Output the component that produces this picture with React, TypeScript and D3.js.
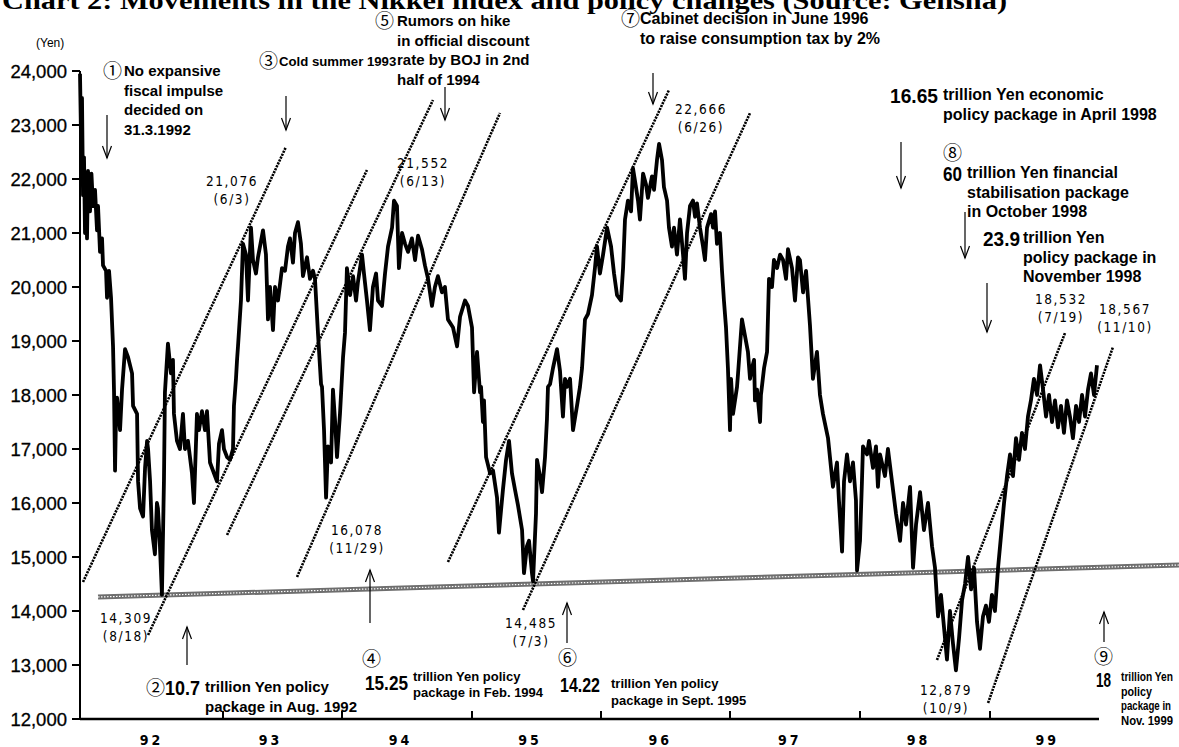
import * as d3 from "d3";

// Nikkei 225: [decimal year, yen]
const nikkei: [number, number][] = [
  [1992.0, 23950], [1992.007, 22800], [1992.014, 23500], [1992.021, 21700], [1992.028, 22400], [1992.035, 21000],
  [1992.042, 21900], [1992.049, 20900], [1992.056, 22150], [1992.07, 21400], [1992.08, 22100], [1992.091, 21500],
  [1992.105, 21800], [1992.119, 21050], [1992.126, 21500], [1992.14, 20650], [1992.154, 20900], [1992.161, 20400],
  [1992.182, 20300], [1992.189, 19800], [1992.203, 20300], [1992.217, 19800], [1992.231, 18900], [1992.238, 18050],
  [1992.245, 16600], [1992.252, 17650], [1992.259, 17950], [1992.28, 17350], [1992.294, 18100], [1992.315, 18850],
  [1992.336, 18700], [1992.364, 18400], [1992.371, 17800], [1992.399, 17650], [1992.406, 16400], [1992.42, 15900],
  [1992.441, 15750], [1992.455, 16650], [1992.469, 17150], [1992.476, 17000], [1992.49, 16400], [1992.503, 15500],
  [1992.524, 15050], [1992.538, 16000], [1992.545, 15900], [1992.559, 15200], [1992.573, 14300], [1992.587, 16400],
  [1992.594, 18050], [1992.615, 18950], [1992.636, 18400], [1992.65, 18650], [1992.657, 17650], [1992.678, 17150],
  [1992.699, 17000], [1992.72, 17650], [1992.734, 17000], [1992.755, 17150], [1992.783, 16550], [1992.797, 16000],
  [1992.818, 17650], [1992.832, 17350], [1992.853, 17700], [1992.874, 17350], [1992.888, 17700], [1992.909, 16750],
  [1992.944, 16500], [1992.958, 16400], [1992.972, 17100], [1992.993, 17350],
  [1993.008, 17000], [1993.034, 16850], [1993.059, 16800], [1993.084, 17000], [1993.092, 17800], [1993.109, 18300],
  [1993.118, 18650], [1993.126, 18900], [1993.151, 19750], [1993.168, 20800], [1993.193, 20600], [1993.21, 19750],
  [1993.235, 21100], [1993.252, 20500], [1993.277, 20250], [1993.294, 20550], [1993.336, 21050], [1993.361, 20600],
  [1993.378, 19400], [1993.395, 20000], [1993.42, 19200], [1993.437, 20000], [1993.462, 19750], [1993.496, 20350],
  [1993.521, 20300], [1993.546, 20750], [1993.563, 20900], [1993.588, 20450], [1993.605, 21000], [1993.63, 21200],
  [1993.655, 20800], [1993.672, 20200], [1993.706, 20550], [1993.731, 20150], [1993.756, 20300], [1993.773, 20150],
  [1993.798, 19150], [1993.824, 18200], [1993.832, 18150], [1993.849, 17350], [1993.866, 16100], [1993.882, 17050],
  [1993.908, 16750], [1993.924, 18100], [1993.941, 17550], [1993.958, 16850], [1993.983, 17650],
  [1994.008, 18700], [1994.023, 19150], [1994.038, 20350], [1994.062, 19850], [1994.085, 20200], [1994.108, 19750],
  [1994.123, 20100], [1994.154, 20600], [1994.169, 20250], [1994.192, 19750], [1994.215, 19200], [1994.238, 20000],
  [1994.262, 20250], [1994.277, 19750], [1994.308, 19650], [1994.331, 20250], [1994.354, 20750], [1994.385, 21100],
  [1994.4, 21600], [1994.423, 21500], [1994.438, 20350], [1994.462, 21000], [1994.485, 20800], [1994.508, 20650],
  [1994.538, 20900], [1994.562, 20500], [1994.585, 20950], [1994.615, 20700], [1994.638, 20400], [1994.662, 20150],
  [1994.692, 19650], [1994.715, 20000], [1994.738, 20200], [1994.769, 19900], [1994.792, 20000], [1994.815, 19400],
  [1994.854, 19250], [1994.885, 18900], [1994.908, 19450], [1994.946, 19750], [1994.969, 19650],
  [1995.0, 19250], [1995.016, 18050], [1995.039, 18800], [1995.062, 18050], [1995.07, 18150], [1995.085, 17500],
  [1995.093, 17900], [1995.109, 16850], [1995.14, 16550], [1995.163, 16600], [1995.194, 16100], [1995.209, 15450],
  [1995.24, 16250], [1995.264, 16800], [1995.287, 17150], [1995.31, 16550], [1995.333, 16250], [1995.357, 15950],
  [1995.388, 15500], [1995.403, 14700], [1995.426, 15200], [1995.442, 15300], [1995.465, 14700], [1995.473, 14550],
  [1995.496, 15800], [1995.504, 16800], [1995.527, 16500], [1995.543, 16200], [1995.566, 16850], [1995.581, 17550],
  [1995.589, 18150], [1995.605, 18200], [1995.628, 18500], [1995.659, 18850], [1995.682, 18450], [1995.705, 17600],
  [1995.721, 18300], [1995.736, 18150], [1995.76, 18300], [1995.783, 17350], [1995.814, 17800], [1995.837, 18150],
  [1995.853, 18500], [1995.876, 19400], [1995.899, 19500], [1995.93, 19850], [1995.953, 20350], [1995.969, 20750],
  [1995.992, 20250], [1996.016, 20600], [1996.047, 21100], [1996.078, 20750], [1996.101, 20250], [1996.124, 19850],
  [1996.155, 19750], [1996.171, 20350], [1996.186, 21250], [1996.209, 21600], [1996.233, 21400], [1996.248, 22200],
  [1996.271, 21850], [1996.287, 21600], [1996.302, 21250], [1996.326, 22100], [1996.349, 21900], [1996.364, 21650],
  [1996.395, 22050], [1996.411, 21800], [1996.434, 22350], [1996.45, 22650], [1996.473, 22350], [1996.488, 21850],
  [1996.512, 21600], [1996.527, 21100], [1996.55, 20750], [1996.566, 21100], [1996.589, 20600], [1996.612, 21250],
  [1996.636, 20600], [1996.651, 20150], [1996.667, 21000], [1996.69, 21500], [1996.713, 21600], [1996.729, 21300],
  [1996.744, 21550], [1996.767, 21100], [1996.791, 20750], [1996.806, 20500], [1996.822, 21100], [1996.853, 21350],
  [1996.868, 21100], [1996.884, 21400], [1996.899, 20800], [1996.922, 21000], [1996.938, 20300], [1996.953, 19750],
  [1996.969, 19250], [1996.984, 18500],
  [1997.0, 17350], [1997.008, 18300], [1997.023, 17650], [1997.054, 18150], [1997.062, 18400], [1997.092, 19400],
  [1997.115, 19100], [1997.138, 18800], [1997.154, 18300], [1997.169, 18500], [1997.185, 18650], [1997.192, 17900],
  [1997.208, 18100], [1997.231, 17500], [1997.238, 18000], [1997.262, 18500], [1997.285, 18800], [1997.3, 20150],
  [1997.323, 20000], [1997.338, 20500], [1997.362, 20350], [1997.385, 20600], [1997.408, 20500], [1997.431, 20150],
  [1997.446, 20700], [1997.477, 20350], [1997.5, 19750], [1997.523, 20550], [1997.538, 20500], [1997.562, 19900],
  [1997.585, 20300], [1997.615, 19300], [1997.638, 18300], [1997.669, 18800], [1997.692, 18000], [1997.715, 17650],
  [1997.754, 17200], [1997.792, 16300], [1997.823, 16750], [1997.838, 16050], [1997.862, 15100], [1997.877, 16400],
  [1997.9, 16900], [1997.923, 16400], [1997.946, 16750], [1997.969, 16050], [1997.977, 14750],
  [1998.0, 15300], [1998.015, 16400], [1998.023, 17050], [1998.054, 16900], [1998.069, 17150], [1998.1, 16650],
  [1998.123, 17050], [1998.138, 16300], [1998.154, 16900], [1998.192, 16500], [1998.215, 17000], [1998.246, 16400],
  [1998.277, 15800], [1998.308, 15300], [1998.331, 16000], [1998.354, 15600], [1998.385, 16300], [1998.408, 14800],
  [1998.431, 15600], [1998.462, 16200], [1998.492, 15500], [1998.523, 16000], [1998.554, 15200], [1998.577, 14800],
  [1998.6, 13900], [1998.623, 14300], [1998.646, 13700], [1998.669, 13100], [1998.692, 14000], [1998.715, 13400],
  [1998.738, 12900], [1998.762, 13500], [1998.785, 14200], [1998.808, 14500], [1998.831, 15000], [1998.854, 14400],
  [1998.877, 14800], [1998.9, 13800], [1998.923, 13300], [1998.946, 13900], [1998.969, 14100], [1998.992, 13800],
  [1999.015, 14300], [1999.038, 14000], [1999.062, 14800], [1999.085, 15400], [1999.108, 16000], [1999.131, 16500],
  [1999.154, 16900], [1999.177, 16500], [1999.2, 17200], [1999.223, 16800], [1999.246, 17300], [1999.269, 17000],
  [1999.292, 17600], [1999.315, 17900], [1999.338, 18300], [1999.362, 18000], [1999.385, 18550], [1999.408, 18100],
  [1999.431, 17600], [1999.454, 18000], [1999.477, 17500], [1999.5, 17900], [1999.523, 17400], [1999.546, 17800],
  [1999.569, 17300], [1999.592, 17900], [1999.615, 17600], [1999.638, 17200], [1999.662, 17800], [1999.685, 17500],
  [1999.708, 18000], [1999.731, 17600], [1999.754, 18100], [1999.777, 18400], [1999.8, 18000], [1999.823, 18550],
];

// dashed trend channels, [start, end] as [year, yen]
const trendLines: [number, number][][] = [
  [[1992.021, 14537], [1993.529, 22593]],
  [[1992.476, 13556], [1994.192, 22167]],
  [[1993.034, 15407], [1994.7, 23463]],
  [[1993.622, 14630], [1995.217, 23222]],
  [[1994.815, 14907], [1996.527, 23648]],
  [[1995.395, 14019], [1997.154, 23222]],
  [[1998.592, 13093], [1999.577, 19148]],
  [[1998.985, 12296], [1999.946, 18889]],
];

// hatched support line
const supportLine: [number, number][] = [[1992.126, 14259], [2000.454, 14852]];

const yearBreaks = [1992, 1993, 1994, 1995, 1996, 1997, 1998, 1999, 2000];
const yearTicks = [1993, 1994, 1995, 1996, 1997, 1998, 1999];
const yearLabels = ["92", "93", "94", "95", "96", "97", "98", "99"];
const yearLabelAt = [1992.5, 1993.4, 1994.45, 1995.45, 1996.46, 1997.46, 1998.45, 1999.44];
const yTicks = [12000, 13000, 14000, 15000, 16000, 17000, 18000, 19000, 20000, 21000, 22000, 23000, 24000];

// highs and lows: value, date
const extremes = [
  { v: "21,076", d: "(6/3)", x: 232, y: 186 },
  { v: "14,309", d: "(8/18)", x: 126, y: 623 },
  { v: "16,078", d: "(11/29)", x: 357, y: 535 },
  { v: "21,552", d: "(6/13)", x: 423, y: 168 },
  { v: "14,485", d: "(7/3)", x: 531, y: 628 },
  { v: "22,666", d: "(6/26)", x: 701, y: 114 },
  { v: "12,879", d: "(10/9)", x: 946, y: 695 },
  { v: "18,532", d: "(7/19)", x: 1061, y: 304 },
  { v: "18,567", d: "(11/10)", x: 1125, y: 314 },
];

const W = 1179;
const H = 747;
const x = d3.scaleLinear().domain(yearBreaks).range([80, 223, 342, 472, 601, 730, 860, 990, 1120]);
const y = d3.scaleLinear().domain([12000, 24000]).range([719, 71]);

const COND = "'DejaVu Sans Condensed', 'Liberation Sans', sans-serif";
const SANS = "'Liberation Sans', Arial, sans-serif";
const CIRC = "'Noto Sans CJK JP', 'DejaVu Sans', sans-serif";

function Arrow({ x: ax, from, to }: { x: number; from: number; to: number }) {
  const dir = to > from ? 1 : -1;
  return (
    <g stroke="#000" strokeWidth={1.2} fill="none">
      <line x1={ax} x2={ax} y1={from} y2={to} />
      <path d={`M${ax - 4.5},${to - dir * 12} L${ax},${to} L${ax + 4.5},${to - dir * 12}`} />
    </g>
  );
}

function Lines({ x: tx, y: ty, lines, size = 15, lh = 19.5, weight = 700, fit }: any) {
  return (
    <text x={tx} y={ty} fontFamily={SANS} fontSize={size} fontWeight={weight} fill="#000">
      {lines.map((l: string, i: number) => (
        <tspan key={i} x={tx} dy={i === 0 ? 0 : lh} textLength={fit ? fit[i] : undefined}
          lengthAdjust="spacingAndGlyphs">{l}</tspan>
      ))}
    </text>
  );
}

// tall condensed figures
function Big({ x: tx, y: ty, t, w }: { x: number; y: number; t: string; w: number }) {
  return (
    <text x={tx} y={ty} fontFamily={SANS} fontSize={21} fontWeight={700} textLength={w} lengthAdjust="spacingAndGlyphs">{t}</text>
  );
}

function Circ({ x: tx, y: ty, t }: { x: number; y: number; t: string }) {
  return <text x={tx} y={ty} fontFamily={CIRC} fontSize={19}>{t}</text>;
}

export default function App() {
  const line = d3.line<[number, number]>().x((d) => x(d[0])).y((d) => y(d[1]));
  const fmt = d3.format(",");

  return (
    <svg width={W} height={H} style={{ position: "absolute", left: 0, top: 0, background: "#fff" }}>
      <rect width={W} height={H} fill="#fff" />
      <text x={2} y={9} fontFamily="'Liberation Serif', 'Times New Roman', serif" fontWeight={700} fontSize={26}
        textLength={1005} lengthAdjust="spacingAndGlyphs">
        Chart 2: Movements in the Nikkei index and policy changes (Source: Gensha)
      </text>

      {/* y axis */}
      <text x={36} y={47} fontFamily={SANS} fontSize={12}>(Yen)</text>
      <line x1={80} x2={80} y1={y(24000)} y2={y(12000)} stroke="#000" strokeWidth={2} />
      {yTicks.map((t) => (
        <g key={t}>
          <line x1={72} x2={80} y1={y(t)} y2={y(t)} stroke="#000" strokeWidth={2} />
          <text x={67} y={y(t) + 6.5} textAnchor="end" fontFamily={SANS} fontSize={18.5} stroke="#000" strokeWidth={0.3}>
            {fmt(t)}
          </text>
        </g>
      ))}

      {/* x axis */}
      <line x1={80} x2={1099} y1={y(12000)} y2={y(12000)} stroke="#000" strokeWidth={2.5} />
      {yearTicks.map((t) => (
        <line key={t} x1={x(t)} x2={x(t)} y1={y(12000)} y2={y(12000) - 8} stroke="#000" strokeWidth={2} />
      ))}
      {yearLabels.map((l, i) => (
        <text key={l} x={x(yearLabelAt[i])} y={745} textAnchor="middle" fontFamily={COND} fontWeight={700}
          fontSize={14} letterSpacing={3}>{l}</text>
      ))}

      {/* support line */}
      <path d={line(supportLine) ?? ""} stroke="#6e6e6e" strokeWidth={5} fill="none" />
      <path d={line(supportLine) ?? ""} stroke="#fff" strokeWidth={1.2} strokeDasharray="1.5,1.5" fill="none" />

      {/* trend channels */}
      {trendLines.map((seg, i) => (
        <path key={i} d={line(seg) ?? ""} stroke="#000" strokeWidth={2.6} strokeDasharray="2.2,1" fill="none" />
      ))}

      {/* index */}
      <path d={line(nikkei) ?? ""} stroke="#000" strokeWidth={3.8} strokeLinejoin="round" fill="none" />

      {/* extremes */}
      {extremes.map((e) => (
        <text key={e.v} x={e.x} y={e.y} textAnchor="middle" fontFamily={COND} fontSize={13.5} letterSpacing={1.6}>
          <tspan x={e.x}>{e.v}</tspan>
          <tspan x={e.x} dy={18}>{e.d}</tspan>
        </text>
      ))}

      {/* policy annotations */}
      <Circ x={103} y={78} t="①" />
      <Lines x={124} y={76} lines={["No expansive", "fiscal impulse", "decided on", "31.3.1992"]} />
      <Arrow x={107} from={115} to={158} />

      <Circ x={259} y={68} t="③" />
      <Lines x={279} y={66} size={13.2} lines={["Cold summer 1993"]} />
      <Arrow x={286} from={96} to={130} />

      <Circ x={375} y={28} t="⑤" />
      <Lines x={397} y={26} lines={["Rumors on hike", "in official discount", "rate by BOJ in 2nd", "half of 1994"]} />
      <Arrow x={445} from={87} to={120} />

      <Circ x={621} y={26} t="⑦" />
      <Lines x={640} y={24} size={16} lines={["Cabinet decision in June 1996", "to raise consumption tax by 2%"]} />
      <Arrow x={653} from={73} to={104} />

      <Big x={890} y={103} w={48} t="16.65" />
      <Lines x={943} y={100} size={16} lines={["trillion Yen economic", "policy package in April 1998"]} />
      <Arrow x={901} from={142} to={188} />

      <Circ x={943} y={160} t="⑧" />
      <Big x={943} y={181} w={19} t="60" />
      <Lines x={967} y={178} size={16} lines={["trillion Yen financial", "stabilisation package", "in October 1998"]} />
      <Arrow x={965} from={212} to={258} />

      <Big x={983} y={246} w={37} t="23.9" />
      <Lines x={1023} y={243} size={16} lines={["trillion Yen", "policy package in", "November 1998"]} />
      <Arrow x={987} from={283} to={332} />

      <Arrow x={187} from={665} to={627} />
      <Circ x={146} y={695} t="②" />
      <Big x={165} y={695} w={35} t="10.7" />
      <Lines x={205} y={692} lines={["trillion Yen policy", "package in Aug. 1992"]} />

      <Arrow x={370} from={623} to={570} />
      <Circ x={362} y={666} t="④" />
      <Big x={365} y={690} w={43} t="15.25" />
      <Lines x={413} y={681} size={13} lh={16} lines={["trillion Yen policy", "package in Feb. 1994"]} />

      <Arrow x={567} from={643} to={603} />
      <Circ x={558} y={665} t="⑥" />
      <Big x={560} y={692} w={40} t="14.22" />
      <Lines x={611} y={688} size={13} lh={17} lines={["trillion Yen policy", "package in Sept. 1995"]} />

      <Arrow x={1104} from={642} to={612} />
      <Circ x={1094} y={664} t="⑨" />
      <Big x={1096} y={687} w={15} t="18" />
      <Lines x={1121} y={681} size={13.5} lh={14.5} fit={[52, 31, 50, 52]}
        lines={["trillion Yen", "policy", "package in", "Nov. 1999"]} />
    </svg>
  );
}
